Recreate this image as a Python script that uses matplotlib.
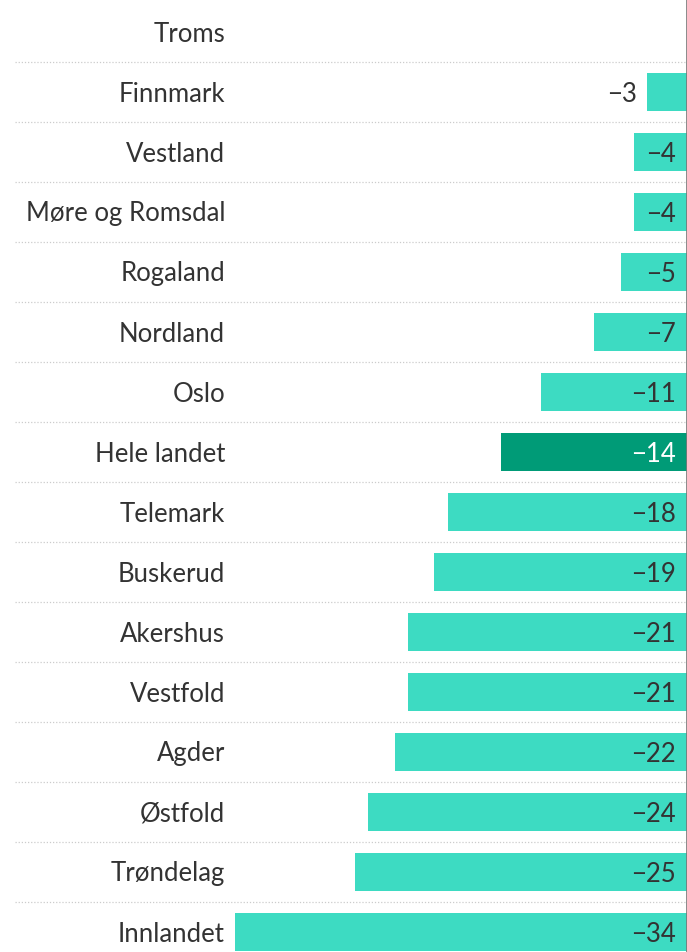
import numpy as np
import matplotlib.pyplot as plt

# ── Data ─────────────────────────────────────────────────────────────────────
regions = ['Troms', 'Finnmark', 'Vestland', 'Møre og Romsdal', 'Rogaland',
           'Nordland', 'Oslo', 'Hele landet', 'Telemark', 'Buskerud',
           'Akershus', 'Vestfold', 'Agder', 'Østfold', 'Trøndelag', 'Innlandet']
values = [0, -3, -4, -4, -5, -7, -11, -14, -18, -19, -21, -21, -22, -24, -25, -34]
highlight = 'Hele landet'

LIGHT = '#3ddbc2'
DARK = '#009b77'
TEXT = '#333333'
FS = 18.5
DY = 2 / 60  # nudge text down a couple of pixels

plt.rcParams['font.family'] = ['Lato', 'DejaVu Sans']

W, H = 687, 952
fig = plt.figure(figsize=(W / 100, H / 100), dpi=100)
ax = fig.add_axes([0, 0, 1, 1])

# scale: -34 reaches x=235 px, zero sits on the right edge
px_per_unit = (W - 235) / 34
ax.set_xlim(-W / px_per_unit, 0)
ax.set_ylim(len(regions) - 1 + 20 / 60, -32 / 60)

y = np.arange(len(regions))
colors = [DARK if r == highlight else LIGHT for r in regions]
ax.barh(y, values, height=38 / 60, color=colors, zorder=2)

# separators
for i in range(len(regions) - 1):
    ax.plot([15 / W, 1], [i + 0.5, i + 0.5], transform=ax.get_yaxis_transform(),
            color='#cccccc', linewidth=0.9, linestyle=(0, (1, 1.5)), zorder=1)

# right edge line
ax.axvline(0, color='#777777', linewidth=1.2, zorder=3)

lab_tr = ax.get_yaxis_transform()
for yi, r, v in zip(y, regions, values):
    ax.text(225 / W, yi + DY, r, transform=lab_tr, ha='right', va='center',
            fontsize=FS, color=TEXT)
    if v == 0:
        continue
    txt = f'\u2212{abs(v)}'
    if abs(v) < 4:
        ax.text(v - 10 / px_per_unit, yi + DY, txt, ha='right', va='center',
                fontsize=FS, color=TEXT)
    else:
        ax.text(-11 / px_per_unit, yi + DY, txt, ha='right', va='center',
                fontsize=FS, color='white' if r == highlight else TEXT, zorder=4)

ax.axis('off')
fig.savefig('out.png', dpi=100, facecolor='white')
